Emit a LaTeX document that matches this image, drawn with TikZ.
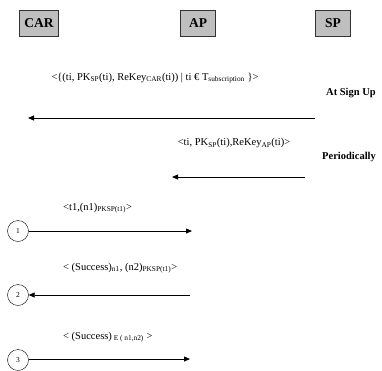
\documentclass[tikz,border=0pt]{standalone}
\usepackage{fontspec}
\setmainfont{Liberation Serif}
\usetikzlibrary{arrows.meta}

\begin{document}
\begin{tikzpicture}[x=1pt,y=-1pt,
	entity/.style={draw=black!80,fill=black!25,font=\fontsize{13.5}{15}\selectfont\bfseries,
		minimum width=35pt,minimum height=26pt,inner xsep=5pt},
	msg/.style={font=\fontsize{10.5}{12}\selectfont,inner sep=1pt},
	phase/.style={font=\fontsize{10.5}{12}\selectfont\bfseries,inner sep=1pt},
	stepno/.style={draw,circle,minimum size=21pt,inner sep=0pt,font=\fontsize{7.5}{8}\selectfont},
	flow/.style={-{Triangle[length=6pt,width=5pt]},line width=1pt}]
	\useasboundingbox (0,0) rectangle (382,370);
	\node[entity] (car) at (39,23) {CAR};
	\node[entity] (ap) at (198,23) {AP};
	\node[entity] (sp) at (333,23) {SP};
	% at sign up
	\node[msg] (signupmsg) at (155,78) {<\{(ti, PK\textsubscript{SP}(ti), ReKey\textsubscript{CAR}(ti)) | ti € T\textsubscript{subscription} \}>};
	\node[phase,anchor=west] (signup) at (325,93) {At Sign Up};
	\coordinate (signupfrom) at (315,118);
	\coordinate (signupto) at (28,118);
	\draw[flow] (signupfrom) -- (signupto);
	% periodically
	\node[msg] (periodmsg) at (234,143) {<ti, PK\textsubscript{SP}(ti),ReKey\textsubscript{AP}(ti)>};
	\node[phase,anchor=west] (period) at (321,157) {Periodically};
	\coordinate (periodfrom) at (305,177);
	\coordinate (periodto) at (172,177);
	\draw[flow] (periodfrom) -- (periodto);
	% handshake
	\node[msg,anchor=west] (onemsg) at (62,208) {<t1,(n1)\textsubscript{PKSP(t1)}>};
	\node[stepno] (one) at (18,231) {1};
	\coordinate (oneto) at (192,231);
	\draw[flow,line width=0.75pt] (one) -- (oneto);
	\node[msg,anchor=west] (twomsg) at (62,268) {< (Success)\textsubscript{n1}, (n2)\textsubscript{PKSP(t1)}>};
	\node[stepno] (two) at (18,295) {2};
	\coordinate (twofrom) at (190,295);
	\draw[flow,line width=0.75pt] (twofrom) -- (two);
	\node[msg,anchor=west] (threemsg) at (62,337) {< (Success)\textsubscript{ E ( n1,n2)} >};
	\node[stepno] (three) at (18,360) {3};
	\coordinate (threeto) at (190,359);
	\draw[flow,line width=0.75pt] (three.east |- threeto) -- (threeto);
\end{tikzpicture}
\end{document}
